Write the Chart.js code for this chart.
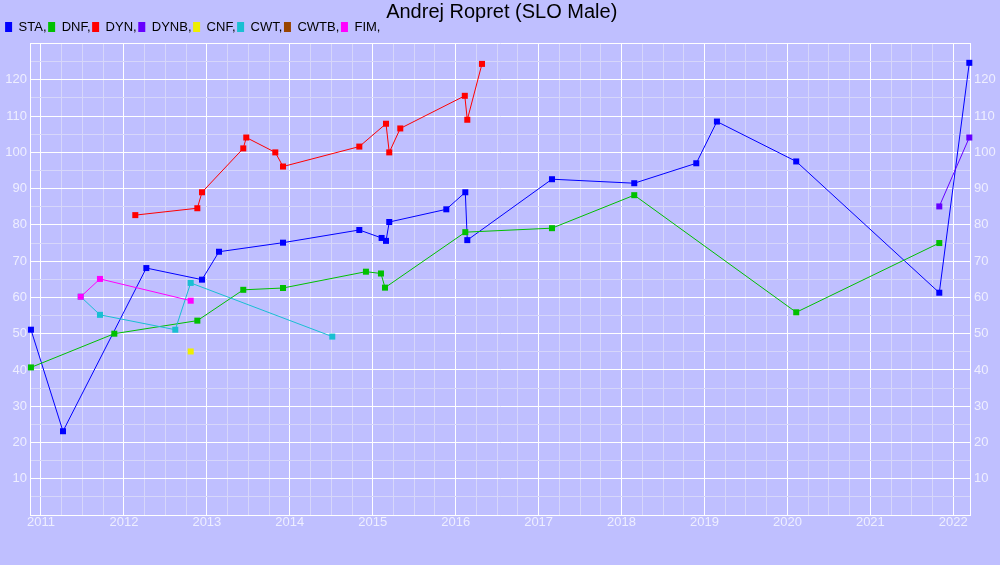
<!DOCTYPE html>
<html>
<head>
<meta charset="utf-8">
<script src="https://cdn.jsdelivr.net/npm/chart.js@4/dist/chart.umd.min.js"></script>
<style>
html, body { margin: 0; padding: 0; background: #BFBFFF; }
#wrap { width: 1000px; height: 565px; }
</style>
</head>
<body>
<div id="wrap"><canvas id="c" width="1000" height="565"></canvas></div>
<script>
// ---- data (x in decimal years) ----
const seriesNames = ['STA', 'DNF', 'DYN', 'DYNB', 'CNF', 'CWT', 'CWTB', 'FIM'];
const seriesColors = ['#0000FF', '#00C000', '#FF0000', '#6600FF', '#EEEE00', '#19BFD2', '#994400', '#FF00FF'];

const staDates = [2010.879, 2011.265, 2012.270, 2012.941, 2013.146, 2013.918, 2014.838, 2015.107, 2015.160, 2015.199, 2015.887, 2016.116, 2016.140, 2017.161, 2018.153, 2018.901, 2019.150, 2020.106, 2021.831, 2022.193];
const staValues = [51.1, 23.1, 68.1, 64.9, 72.6, 75.1, 78.6, 76.4, 75.6, 80.8, 84.3, 89.0, 75.8, 92.6, 91.5, 97.0, 108.5, 97.5, 61.3, 124.7];

const dnfDates = [2010.879, 2011.884, 2012.885, 2013.439, 2013.918, 2014.918, 2015.099, 2015.148, 2016.116, 2017.161, 2018.153, 2020.106, 2021.831];
const dnfValues = [40.7, 50.0, 53.6, 62.1, 62.6, 67.1, 66.6, 62.7, 78.0, 79.1, 88.2, 55.9, 75.0];

const dynDates = [2012.137, 2012.885, 2012.941, 2013.439, 2013.475, 2013.825, 2013.918, 2014.838, 2015.160, 2015.199, 2015.332, 2016.110, 2016.140, 2016.317];
const dynValues = [82.7, 84.6, 89.0, 101.1, 104.1, 100.0, 96.1, 101.6, 107.9, 100.0, 106.6, 115.6, 109.0, 124.4];

const dynbDates = [2021.831, 2022.193];
const dynbValues = [85.1, 104.1];

const cnfDates = [2012.805];
const cnfValues = [45.1];

const cwtDates = [2011.479, 2011.711, 2012.619, 2012.805, 2014.512];
const cwtValues = [60.2, 55.2, 51.1, 64.0, 49.2];

const cwtbDates = [];
const cwtbValues = [];

const fimDates = [2011.479, 2011.711, 2012.805];
const fimValues = [60.2, 65.1, 59.1];

const yTickLabels = [10, 20, 30, 40, 50, 60, 70, 80, 90, 100, 110, 120];
const xTickLabels = [2011, 2012, 2013, 2014, 2015, 2016, 2017, 2018, 2019, 2020, 2021, 2022];

// ---- build ----
const allDates = [staDates, dnfDates, dynDates, dynbDates, cnfDates, cwtDates, cwtbDates, fimDates];
const allValues = [staValues, dnfValues, dynValues, dynbValues, cnfValues, cwtValues, cwtbValues, fimValues];

const FONT = "'Liberation Sans', Arial, sans-serif";
const LABEL_COLOR = '#EEEEFF';
const MAJOR = '#FFFFFF';
const MINOR = '#D6D6FA';

const datasets = seriesNames.map((name, i) => ({
  label: name,
  data: allDates[i].map((d, k) => ({ x: d, y: allValues[i][k] })),
  borderColor: seriesColors[i],
  backgroundColor: seriesColors[i],
  borderWidth: 1,
  tension: 0,
  pointStyle: 'rect',
  pointRadius: 4.25,
  pointBorderWidth: 0,
  pointBackgroundColor: seriesColors[i],
  clip: false,
  order: -i
}));

const isWhole = v => Math.abs(v - Math.round(v)) < 1e-6;

new Chart(document.getElementById('c'), {
  type: 'line',
  data: { datasets },
  options: {
    responsive: false,
    animation: false,
    devicePixelRatio: 1,
    events: [],
    layout: { padding: { left: 3.5, right: 0, top: 0, bottom: 0 } },
    plugins: {
      tooltip: { enabled: false },
      title: {
        display: true,
        text: 'Andrej Ropret (SLO Male)',
        color: '#000000',
        font: { family: FONT, size: 20, weight: 'normal', lineHeight: 0.65 },
        padding: { top: 6, bottom: 0 }
      },
      legend: {
        display: true,
        position: 'top',
        align: 'start',
        labels: {
          boxWidth: 7,
          boxHeight: 10,
          padding: 1.6,
          color: '#000000',
          font: { family: FONT, size: 13 },
          sort: (a, b) => a.datasetIndex - b.datasetIndex,
          generateLabels: (chart) => {
            const items = Chart.defaults.plugins.legend.labels.generateLabels(chart);
            items.forEach(it => { it.lineWidth = 0; it.text = it.text + ','; it.hidden = false; });
            return items;
          }
        }
      }
    },
    scales: {
      x: {
        type: 'linear',
        position: 'bottom',
        min: 2010.8674,
        max: 2022.2013,
        afterFit: s => { s.height = 50; },
        ticks: {
          stepSize: 0.25,
          includeBounds: false,
          autoSkip: false,
          maxRotation: 0,
          minRotation: 0,
          padding: 0,
          color: LABEL_COLOR,
          font: { family: FONT, size: 13 },
          callback: v => (isWhole(v) && xTickLabels.includes(Math.round(v))) ? String(Math.round(v)) : ''
        },
        grid: {
          drawTicks: false,
          lineWidth: 1,
          color: ctx => (ctx.tick && isWhole(ctx.tick.value)) ? MAJOR : MINOR
        },
        border: { display: true, color: MAJOR, width: 1 }
      },
      y: {
        type: 'linear',
        position: 'left',
        min: 0,
        max: 130,
        afterFit: s => { s.width = 26.5; },
        ticks: {
          stepSize: 5,
          autoSkip: false,
          padding: 3,
          color: LABEL_COLOR,
          font: { family: FONT, size: 13 },
          callback: v => yTickLabels.includes(v) ? String(v) : ''
        },
        grid: {
          drawTicks: false,
          lineWidth: 1,
          color: ctx => (ctx.tick && Math.round(ctx.tick.value) % 10 === 0) ? MAJOR : MINOR
        },
        border: { display: true, color: MAJOR, width: 1 }
      },
      y2: {
        type: 'linear',
        position: 'right',
        min: 0,
        max: 130,
        afterFit: s => { s.width = 30; },
        ticks: {
          stepSize: 5,
          autoSkip: false,
          padding: 4,
          color: LABEL_COLOR,
          font: { family: FONT, size: 13 },
          callback: v => yTickLabels.includes(v) ? String(v) : ''
        },
        grid: { display: false, drawTicks: false },
        border: { display: true, color: MAJOR, width: 1 }
      }
    }
  }
});
</script>
</body>
</html>
